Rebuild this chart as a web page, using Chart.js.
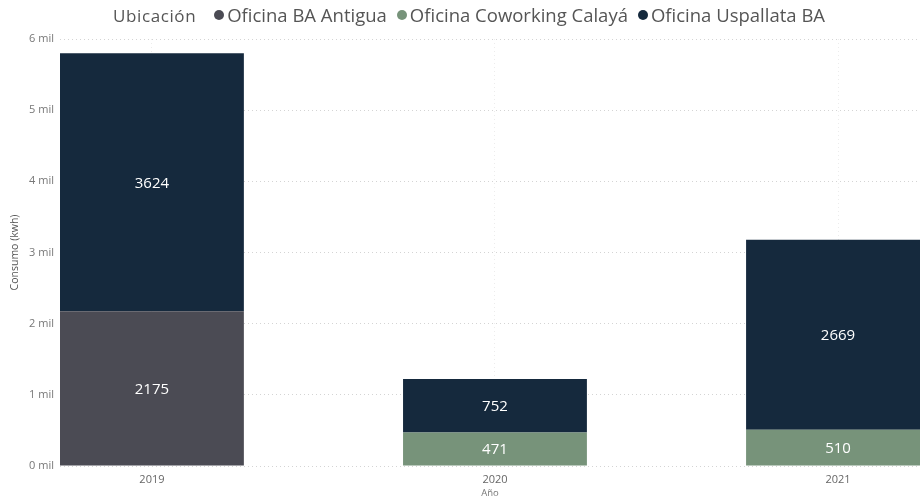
<!DOCTYPE html>
<html>
<head>
<meta charset="utf-8">
<script src="https://cdn.jsdelivr.net/npm/chart.js@4"></script>
<style>
  body { margin: 0; background: #fff; }
  #wrap { position: relative; width: 920px; height: 499px; }
  #legend { position: absolute; top: 2px; left: 113px; white-space: nowrap;
            font-family: "Open Sans", sans-serif; font-size: 18.5px; color: #555; }
  #legend .title { font-size: 17px; letter-spacing: 0.6px; margin-right: 18px; }
  #legend .item { margin-right: 10px; }
  #legend .dot { display: inline-block; width: 10px; height: 10px; border-radius: 50%;
                 margin-right: 3px; vertical-align: 2px; }
</style>
</head>
<body>
<div id="wrap">
  <div id="legend"></div>
  <canvas id="chart" width="920" height="499"></canvas>
</div>
<script>
const years = [2019, 2020, 2021];
const seriesNames = ['Oficina BA Antigua', 'Oficina Coworking Calayá', 'Oficina Uspallata BA'];
const baAntigua = [2175, null, null];
const calaya = [null, 471, 510];
const uspallata = [3624, 752, 2669];
const colors = ['#4b4b54', '#77937a', '#15293d'];
const yTicks = [0, 1000, 2000, 3000, 4000, 5000, 6000];

const seriesValues = [baAntigua, calaya, uspallata];

// legend in html, title inline with the items
const legend = document.getElementById('legend');
legend.innerHTML = '<span class="title">Ubicación</span>' + seriesNames.map((n, i) =>
    `<span class="item"><span class="dot" style="background:${colors[i]}"></span>${n}</span>`).join('');

const barLabels = {
    id: 'barLabels',
    afterDatasetsDraw(chart) {
        const ctx = chart.ctx;
        ctx.save();
        ctx.fillStyle = '#fff';
        ctx.font = '15px "Open Sans", sans-serif';
        ctx.textAlign = 'center';
        ctx.textBaseline = 'middle';
        chart.data.datasets.forEach((ds, i) => {
            chart.getDatasetMeta(i).data.forEach((bar, j) => {
                const v = ds.data[j].y;
                if (v == null) return;
                const mid = (bar.y + bar.base) / 2;
                ctx.fillText(String(v), bar.x, mid + 1);
            });
        });
        ctx.restore();
    }
};

const ctx = document.getElementById('chart').getContext('2d');
new Chart(ctx, {
    type: 'bar',
    data: {
        datasets: seriesNames.map((name, i) => ({
            label: name,
            data: years.map((yr, j) => ({ x: yr, y: seriesValues[i][j] })),
            backgroundColor: colors[i],
            borderWidth: 0,
            categoryPercentage: 1,
            barPercentage: 0.536
        }))
    },
    options: {
        responsive: false,
        animation: false,
        layout: { padding: { top: 39, left: 9, right: 0, bottom: 0 } },
        plugins: { legend: { display: false }, tooltip: { enabled: false } },
        scales: {
            x: {
                type: 'linear',
                stacked: true,
                offset: false,
                min: 2018.732,
                max: 2021.239,
                afterBuildTicks: s => { s.ticks = years.map(v => ({ value: v })); },
                afterFit: s => { s.height = 33; },
                grid: { color: '#ececec', drawTicks: false, offset: false },
                border: { display: false, dash: [1, 3] },
                ticks: {
                    color: '#666', padding: 7,
                    font: { family: '"Open Sans", sans-serif', size: 11 },
                    callback: v => String(v)
                },
                title: {
                    display: true, text: 'Año', color: '#777', padding: 0,
                    font: { family: '"Open Sans", sans-serif', size: 9.5 }
                }
            },
            y: {
                stacked: true,
                min: 0,
                max: 6000,
                afterBuildTicks: s => { s.ticks = yTicks.map(v => ({ value: v })); },
                afterFit: s => { s.width = 51; },
                grid: { color: '#d4d4d4', drawTicks: false },
                border: { display: false, dash: [1, 3] },
                ticks: {
                    color: '#777', padding: 6,
                    font: { family: '"Open Sans", sans-serif', size: 11 },
                    callback: v => (v / 1000) + ' mil'
                },
                title: {
                    display: true, text: 'Consumo (kwh)', color: '#555', padding: 0,
                    font: { family: '"Open Sans", sans-serif', size: 10.5 }
                }
            }
        }
    },
    plugins: [barLabels]
});
</script>
</body>
</html>
